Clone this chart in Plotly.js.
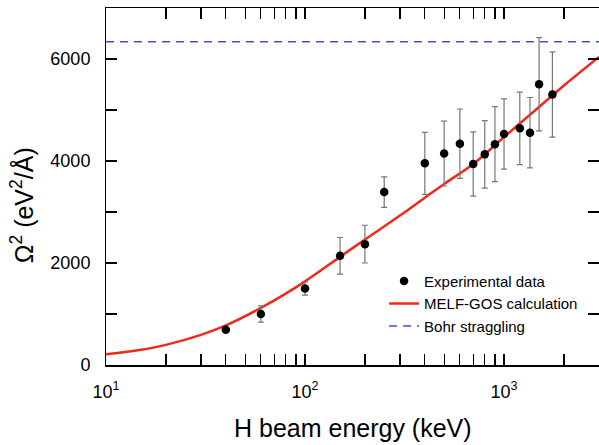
<!DOCTYPE html>
<html>
<head>
<meta charset="utf-8">
<script src="https://cdn.plot.ly/plotly-3.0.1.min.js"></script>
<style>html,body{margin:0;padding:0;background:#fff;}#chart{width:599px;height:445px;}</style>
</head>
<body>
<div id="chart"></div>
<script>
// Experimental data (H beam energy in keV, Omega^2 in eV^2/A, error)
const expEnergy = [40, 60, 100, 150, 200, 250, 400, 500, 600, 700, 800, 900, 1000, 1200, 1350, 1500, 1750];
const expOmega2 = [690, 1000, 1500, 2140, 2370, 3390, 3955, 4145, 4340, 3940, 4130, 4330, 4530, 4640, 4555, 5505, 5305];
const expError  = [40, 160, 130, 360, 370, 300, 608, 635, 680, 630, 660, 735, 690, 710, 690, 915, 836];

// MELF-GOS calculation
const calcEnergy = [10, 15, 20, 30, 40, 60, 80, 100, 150, 200, 300, 400, 500, 700, 1000, 1500, 2000, 3000];
const calcOmega2 = [210, 300, 395, 590, 775, 1120, 1400, 1640, 2120, 2460, 2930, 3280, 3550, 3940, 4470, 5060, 5480, 6040];

// Bohr straggling
const bohrEnergy = [10, 3000];
const bohrOmega2 = [6340, 6340];

// Axis ticks
const xMajorVals = [10, 100, 1000];
const xMajorText = ['10<sup>1</sup>', '10<sup>2</sup>', '10<sup>3</sup>'];
const yMajorVals = [0, 2000, 4000, 6000];
const yMajorText = ['0', '2000', '4000', '6000'];

const FONT = "Liberation Sans, Arial, sans-serif";
const XR = [1, Math.log10(3000)];
const YR = [0, 7000];

const traces = [
  {x: bohrEnergy, y: bohrOmega2, mode: 'lines', name: 'Bohr straggling',
   line: {color: '#3d55b0', width: 1.5, dash: '8px,6px'}, legendrank: 3},
  {x: calcEnergy, y: calcOmega2, mode: 'lines', name: 'MELF-GOS calculation',
   line: {color: '#ee2a1b', width: 2.5, shape: 'spline', smoothing: 1}, legendrank: 2},
  {x: expEnergy, y: expOmega2, mode: 'markers', name: 'Experimental data',
   marker: {color: '#000', size: 8.5},
   error_y: {type: 'data', array: expError, visible: true, color: '#777', thickness: 1.2, width: 3},
   legendrank: 1},
  // dummy traces so the label axes are drawn
  {x: [null], y: [null], xaxis: 'x2', yaxis: 'y', showlegend: false, hoverinfo: 'skip'},
  {x: [null], y: [null], xaxis: 'x', yaxis: 'y2', showlegend: false, hoverinfo: 'skip'}
];

const layout = {
  width: 599, height: 445,
  margin: {l: 106, r: 0, t: 8, b: 80},
  paper_bgcolor: '#fff', plot_bgcolor: '#fff',
  font: {family: FONT, color: '#000', size: 18},
  showlegend: true,
  legend: {
    x: 0.564, y: 0.281, xanchor: 'left', yanchor: 'top',
    bgcolor: 'rgba(0,0,0,0)', font: {size: 15, family: FONT},
    traceorder: 'normal', tracegroupgap: 0
  },
  // main axes: frame and inside ticks (mirrored)
  xaxis: {
    type: 'log', range: XR,
    showline: true, linecolor: '#000', linewidth: 1.5, mirror: 'allticks',
    ticks: 'inside', ticklen: 11, tickwidth: 1.5, tickcolor: '#000',
    tickmode: 'array', tickvals: xMajorVals, showticklabels: false,
    minor: {dtick: 'D1', ticks: 'inside', ticklen: 6, tickwidth: 1.2, tickcolor: '#000', showgrid: false},
    showgrid: false, zeroline: false
  },
  yaxis: {
    range: YR,
    showline: true, linecolor: '#000', linewidth: 1.5, mirror: 'allticks',
    ticks: 'inside', ticklen: 11, tickwidth: 1.5, tickcolor: '#000',
    tickmode: 'array', tickvals: yMajorVals, showticklabels: false,
    minor: {dtick: 1000, ticks: 'inside', ticklen: 6, tickwidth: 1.2, tickcolor: '#000', showgrid: false},
    showgrid: false, zeroline: false
  },
  // label axes: transparent outside ticks to space the labels from the frame
  xaxis2: {
    type: 'log', range: XR, overlaying: 'x', anchor: 'y', side: 'bottom',
    showline: false, showgrid: false, zeroline: false,
    ticks: 'outside', ticklen: 10, tickcolor: 'rgba(0,0,0,0)',
    tickmode: 'array', tickvals: xMajorVals, ticktext: xMajorText,
    tickfont: {size: 18, family: FONT}
  },
  yaxis2: {
    range: YR, overlaying: 'y', anchor: 'x', side: 'left',
    showline: false, showgrid: false, zeroline: false,
    ticks: 'outside', ticklen: 11, tickcolor: 'rgba(0,0,0,0)',
    tickmode: 'array', tickvals: yMajorVals, ticktext: yMajorText,
    tickfont: {size: 18, family: FONT}
  },
  annotations: [
    {text: 'H beam energy (keV)', xref: 'paper', yref: 'paper',
     x: 0.5, y: -0.176, xanchor: 'center', yanchor: 'middle',
     showarrow: false, font: {size: 25, family: FONT}},
    {text: 'Ω<sup>2</sup> (eV<sup>2</sup>/Å)', xref: 'paper', yref: 'paper',
     x: -0.17, y: 0.448, xanchor: 'center', yanchor: 'middle', textangle: -90,
     showarrow: false, font: {size: 25, family: FONT}}
  ]
};

Plotly.newPlot('chart', traces, layout, {displayModeBar: false, staticPlot: true});
</script>
</body>
</html>
